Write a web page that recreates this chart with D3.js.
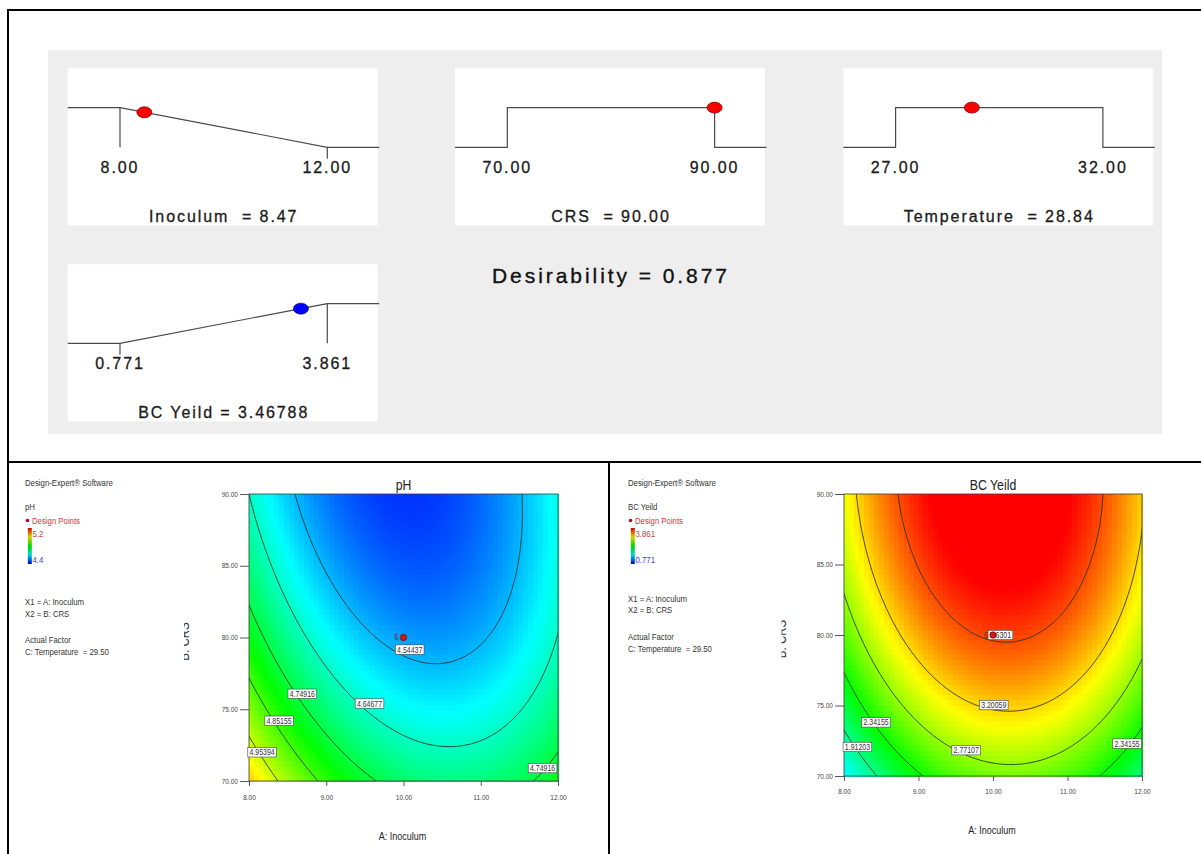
<!DOCTYPE html>
<html>
<head>
<meta charset="utf-8">
<script src="https://cdn.jsdelivr.net/npm/d3@7"></script>
<style>
  body { margin: 0; background: #fff; }
  svg { display: block; }
</style>
</head>
<body>
<svg id="chart" width="1201" height="854"></svg>
<script>
// ---- optimisation panels (three factors + one response) ----
const panelTitles = ["Inoculum  = 8.47", "CRS  = 90.00", "Temperature  = 28.84", "BC Yeild = 3.46788"];
const panelLow = [8, 70, 27, 0.771];
const panelHigh = [12, 90, 32, 3.861];
const panelValue = [8.47, 90, 28.84, 3.46788];
const panelLowText = ["8.00", "70.00", "27.00", "0.771"];
const panelHighText = ["12.00", "90.00", "32.00", "3.861"];
const panelGoal = ["minimize", "range", "range", "maximize"];
const desirability = 0.877;

// ---- contour plots ----
const inoculumTicks = [8, 9, 10, 11, 12];
const crsTicks = [70, 75, 80, 85, 90];
const centerPoint = [10, 80];
const centerReps = 6;
const temperature = 29.50;

// quadratic model, coded units: b0, A, B, AB, A^2, B^2
const phCoef = [4.5255, -0.0710, -0.1404, 0.0584, 0.1946, 0.0545];
const phRange = [4.4, 5.2];
const phLevels = [4.54437, 4.64677, 4.74916, 4.85155, 4.95394];
const phLabelText = ["4.54437", "4.74916", "4.64677", "4.85155", "4.95394", "4.74916"];
const phLabelA = [10.08, 8.69, 9.56, 8.39, 8.17, 11.8];
const phLabelB = [79.16, 76.08, 75.4, 74.2, 72.0, 70.9];

const bcCoef = [3.6596, 0.1605, 0.707, -0.0675, -0.93, -0.2986];
const bcRange = [0.771, 3.861];
const bcLevels = [1.91203, 2.34155, 2.77107, 3.20059, 3.63011];
const bcLabelText = ["3.6301", "3.20059", "2.34155", "1.91203", "2.77107", "2.34155"];
const bcLabelA = [10.1, 10.01, 8.43, 8.18, 9.64, 11.8];
const bcLabelB = [80.0, 75.03, 73.8, 72.06, 71.83, 72.3];

const SANS = '"Liberation Sans", Arial, sans-serif';
const SQUEEZE = 0.82; // Arial Narrow look from Liberation Sans

const svg = d3.select("#chart");

// narrow text helper
function ntext(parent, x, y, s, size, anchor, fill, extra) {
  return parent.append("text")
    .attr("transform", `translate(${x},${y}) ${extra || ""} scale(${SQUEEZE},1)`)
    .attr("text-anchor", anchor || "start")
    .attr("font-family", SANS).attr("font-size", size)
    .attr("fill", fill || "#333").style("white-space", "pre").text(s);
}

// Design-Expert style palette blue -> cyan -> green -> yellow -> red
const deColor = d3.scaleLinear()
  .domain([0, 0.25, 0.5, 0.75, 1])
  .range(["#0000ff", "#00ffff", "#00ff00", "#ffff00", "#ff0000"])
  .clamp(true);

// gray background of the optimisation area
svg.append("rect")
  .attr("x", 48).attr("y", 50).attr("width", 1114).attr("height", 384)
  .attr("fill", "#eeeeee");

// outer table lines
const frame = svg.append("g").attr("stroke", "#000").attr("stroke-width", 2);
frame.append("line").attr("x1", 8).attr("y1", 10).attr("x2", 1201).attr("y2", 10);
frame.append("line").attr("x1", 8).attr("y1", 9).attr("x2", 8).attr("y2", 854);
frame.append("line").attr("x1", 8).attr("y1", 462).attr("x2", 1201).attr("y2", 462);
frame.append("line").attr("x1", 609).attr("y1", 462).attr("x2", 609).attr("y2", 854);

// ---- ramps ----
const boxes = [[67.7, 68.3], [455, 68.3], [843.3, 68.3], [67.7, 264.3]];

panelTitles.forEach((title, i) => {
  const [bx, by] = boxes[i];
  const g = svg.append("g");
  g.append("rect")
    .attr("x", bx).attr("y", by).attr("width", 310).attr("height", 157)
    .attr("fill", "#fff");

  const x = d3.scaleLinear().domain([panelLow[i], panelHigh[i]]).range([bx + 52.3, bx + 259.6]);
  const yT = by + 39.3, yB = by + 79;
  const xl = x(panelLow[i]), xh = x(panelHigh[i]), xe = bx + 311.5;
  const t = (panelValue[i] - panelLow[i]) / (panelHigh[i] - panelLow[i]);
  let d, dotY, marks;
  if (panelGoal[i] === "minimize") {
    d = `M${bx},${yT}H${xl}L${xh},${yB}H${xe}`;
    dotY = yT + t * (yB - yT);
    marks = [[xl, yT, yB], [xh, yB, yB + 11.5]];
  } else if (panelGoal[i] === "maximize") {
    d = `M${bx},${yB}H${xl}L${xh},${yT}H${xe}`;
    dotY = yB - t * (yB - yT);
    marks = [[xl, yB, yB + 11.5], [xh, yT, yB]];
  } else {
    d = `M${bx},${yB}H${xl}V${yT}H${xh}V${yB}H${xe}`;
    dotY = yT;
    marks = [];
  }
  g.append("path").attr("d", d).attr("fill", "none")
    .attr("stroke", "#4a4a4a").attr("stroke-width", 1.2);
  g.selectAll("line.mark").data(marks).enter().append("line")
    .attr("x1", m => m[0]).attr("x2", m => m[0])
    .attr("y1", m => m[1]).attr("y2", m => m[2])
    .attr("stroke", "#4a4a4a").attr("stroke-width", 1.2);

  g.append("ellipse")
    .attr("cx", x(panelValue[i])).attr("cy", dotY)
    .attr("rx", 7.5).attr("ry", 5.5)
    .attr("fill", i === 3 ? "#0000ff" : "#ff0000")
    .attr("stroke", i === 3 ? "#000060" : "#600000").attr("stroke-width", 0.7);

  const txt = (tx, ty, s) => g.append("text")
    .attr("x", tx).attr("y", ty).attr("text-anchor", "middle")
    .attr("font-family", SANS).attr("font-size", 16)
    .attr("letter-spacing", "0.12em").attr("fill", "#1a1a1a")
    .attr("stroke", "#1a1a1a").attr("stroke-width", 0.3)
    .style("white-space", "pre").text(s);
  txt(xl, by + 104.7, panelLowText[i]);
  txt(xh, by + 104.7, panelHighText[i]);
  txt(bx + 156, by + 153.5, title);
});

svg.append("text")
  .attr("x", 611).attr("y", 283)
  .attr("text-anchor", "middle")
  .attr("font-family", SANS).attr("font-size", 21)
  .attr("letter-spacing", "0.14em").attr("fill", "#111")
  .attr("stroke", "#111").attr("stroke-width", 0.35)
  .text("Desirability = " + d3.format(".3f")(desirability));

// ---- contour plots ----
function contourPlot(o) {
  const x = d3.scaleLinear().domain([8, 12]).range([o.x0, o.x1]);
  const y = d3.scaleLinear().domain([70, 90]).range([o.y1, o.y0]);
  const c = o.coef;
  const model = (A, B) => {
    const a = (A - 10) / 2, b = (B - 80) / 10;
    return c[0] + c[1] * a + c[2] * b + c[3] * a * b + c[4] * a * a + c[5] * b * b;
  };
  const color = v => deColor((v - o.range[0]) / (o.range[1] - o.range[0]));
  const g = svg.append("g");

  // colour raster
  const nx = Math.round((o.x1 - o.x0) / 5), ny = Math.round((o.y1 - o.y0) / 5);
  const cw = (o.x1 - o.x0) / nx, ch = (o.y1 - o.y0) / ny;
  g.append("g").attr("shape-rendering", "crispEdges")
    .selectAll("rect").data(d3.cross(d3.range(nx), d3.range(ny))).enter().append("rect")
    .attr("x", d => o.x0 + d[0] * cw).attr("y", d => o.y0 + d[1] * ch)
    .attr("width", cw + 0.6).attr("height", ch + 0.6)
    .attr("fill", d => color(model(x.invert(o.x0 + (d[0] + 0.5) * cw), y.invert(o.y0 + (d[1] + 0.5) * ch))));

  // contour lines
  const n = 161, a0 = 7.8, a1 = 12.2, b0 = 69, b1 = 91;
  const da = (a1 - a0) / (n - 1), db = (b1 - b0) / (n - 1);
  const values = new Array(n * n);
  for (let j = 0; j < n; j++) for (let i = 0; i < n; i++) values[j * n + i] = model(a0 + i * da, b0 + j * db);
  const contours = d3.contours().size([n, n]).thresholds(o.levels)(values);
  const proj = d3.geoTransform({
    point(px, py) { this.stream.point(x(a0 + (px - 0.5) * da), y(b0 + (py - 0.5) * db)); }
  });
  g.append("clipPath").attr("id", o.id + "-clip")
    .append("rect").attr("x", o.x0).attr("y", o.y0)
    .attr("width", o.x1 - o.x0).attr("height", o.y1 - o.y0);
  g.append("g").attr("clip-path", `url(#${o.id}-clip)`)
    .selectAll("path").data(contours).enter().append("path")
    .attr("d", d3.geoPath(proj)).attr("fill", "none")
    .attr("stroke", "#263326").attr("stroke-width", 0.9);

  // frame
  g.append("rect").attr("x", o.x0).attr("y", o.y0)
    .attr("width", o.x1 - o.x0).attr("height", o.y1 - o.y0)
    .attr("fill", "none").attr("stroke", "#3a3a3a").attr("stroke-width", 0.8);

  // contour labels
  o.labelText.forEach((s, k) => {
    const lg = g.append("g").attr("transform", `translate(${x(o.labelA[k])},${y(o.labelB[k])})`);
    const t = ntext(lg, 0, 3, s, 8.5, "middle", "#333");
    const w = t.node().getComputedTextLength() * SQUEEZE + 3.5;
    lg.insert("rect", "text").attr("x", -w / 2).attr("y", -4.7)
      .attr("width", w).attr("height", 9.4)
      .attr("fill", "#fff").attr("stroke", "#444").attr("stroke-width", 0.6);
  });

  // design point (centre, replicated)
  g.append("circle").attr("cx", x(centerPoint[0])).attr("cy", y(centerPoint[1]))
    .attr("r", 3.2).attr("fill", "#d01818").attr("stroke", "#6a0000").attr("stroke-width", 0.6);
  ntext(g, x(centerPoint[0]) - 5, y(centerPoint[1]) + 2.8, String(centerReps), 8.5, "end", "#7a1a1a");

  // axes
  const fmt = d3.format(".2f");
  g.append("g").attr("transform", `translate(0,${o.y1})`)
    .call(d3.axisBottom(x).tickValues(inoculumTicks).tickFormat(fmt)
      .tickSize(5).tickSizeOuter(0).tickPadding(o.xPad))
    .attr("font-size", 6.5).attr("font-family", SANS)
    .call(a => a.select(".domain").remove())
    .call(a => a.selectAll("line").attr("stroke", "#555"))
    .call(a => a.selectAll("text").attr("fill", "#444"));
  g.append("g").attr("transform", `translate(${o.x0},0)`)
    .call(d3.axisLeft(y).tickValues(crsTicks).tickFormat(fmt)
      .tickSize(9).tickSizeOuter(0).tickPadding(2))
    .attr("font-size", 6.5).attr("font-family", SANS)
    .call(a => a.select(".domain").remove())
    .call(a => a.selectAll("line").attr("stroke", "#555"))
    .call(a => a.selectAll("text").attr("fill", "#444"));

  // titles
  ntext(g, (o.x0 + o.x1) / 2, o.titleY, o.title, 15, "middle", "#222");
  ntext(g, (o.x0 + o.x1) / 2 - 1, o.xLabY, "A: Inoculum", 11, "middle", "#222");
  g.append("clipPath").attr("id", o.id + "-yclip")
    .append("rect").attr("x", o.yLabX - 4.5).attr("y", o.y0).attr("width", 20).attr("height", o.y1 - o.y0);
  const yl = g.append("g").attr("clip-path", `url(#${o.id}-yclip)`);
  ntext(yl, o.yLabX, (o.y0 + o.y1) / 2 + 4, "B: CRS", 14, "middle", "#333", "rotate(-90)");

  // legend block
  const L = g.append("g");
  const lx = o.legendX;
  const lt = (tx, ty, s, fill) => ntext(L, tx, ty, s, 9.5, "start", fill || "#333");
  lt(lx, 485.5, "Design-Expert® Software");
  lt(lx, 510, o.title);
  L.append("circle").attr("cx", lx + 2.5).attr("cy", 520.5).attr("r", 1.8).attr("fill", "#a01020");
  lt(lx + 7, 524, "Design Points", "#e0303c");
  const gid = o.id + "-bar";
  const grad = L.append("defs").append("linearGradient").attr("id", gid)
    .attr("x1", 0).attr("y1", 1).attr("x2", 0).attr("y2", 0);
  grad.selectAll("stop").data([0, 0.25, 0.5, 0.75, 1]).enter().append("stop")
    .attr("offset", s => s).attr("stop-color", s => d3.color(deColor(s)).darker(0.5));
  L.append("rect").attr("x", lx + 2.8).attr("y", 528).attr("width", 4).attr("height", 36)
    .attr("fill", `url(#${gid})`);
  lt(lx + 7.5, 537, o.rangeText[1], "#c04040");
  lt(lx + 7.5, 562.5, o.rangeText[0], "#3838d0");
  lt(lx, o.lowY, "X1 = A: Inoculum");
  lt(lx, o.lowY + 11.7, "X2 = B: CRS");
  lt(lx, o.lowY + 38.3, "Actual Factor");
  lt(lx, o.lowY + 50, "C: Temperature  = " + d3.format(".2f")(temperature));
}

contourPlot({
  id: "ph", title: "pH", coef: phCoef, range: phRange, rangeText: ["4.4", "5.2"],
  levels: phLevels, labelText: phLabelText, labelA: phLabelA, labelB: phLabelB,
  x0: 249, x1: 558, y0: 494, y1: 781, xPad: 9.4,
  titleY: 490, xLabY: 840, yLabX: 188.5, legendX: 25, lowY: 605
});

contourPlot({
  id: "bc", title: "BC Yeild", coef: bcCoef, range: bcRange, rangeText: ["0.771", "3.861"],
  levels: bcLevels, labelText: bcLabelText, labelA: bcLabelA, labelB: bcLabelB,
  x0: 844, x1: 1142, y0: 494, y1: 776, xPad: 8.4,
  titleY: 490, xLabY: 834, yLabX: 786, legendX: 628, lowY: 601.7
});
</script>
</body>
</html>
